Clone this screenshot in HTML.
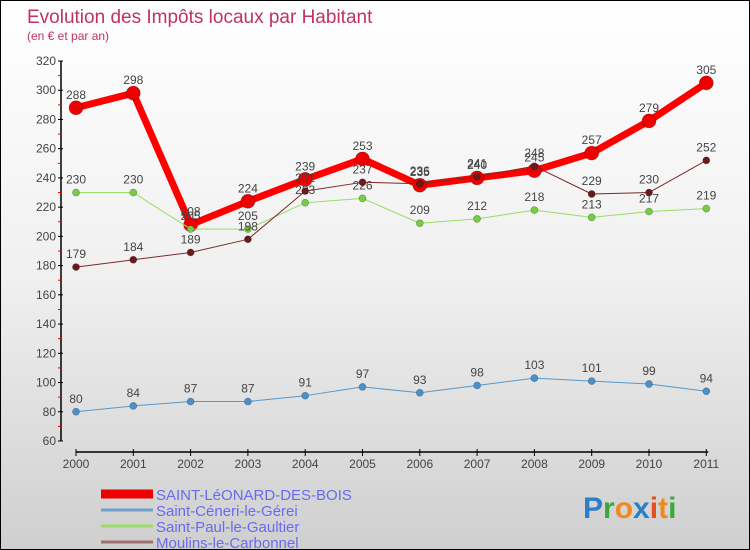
<!DOCTYPE html>
<html><head><meta charset="utf-8"><style>
body{margin:0;}
#wrap{width:748px;height:548px;border:1px solid #000;background:linear-gradient(#fff 0%,#f0f0f0 50%,#cfcfcf 100%);position:relative;overflow:hidden;font-family:"Liberation Sans",sans-serif;}
svg{position:absolute;left:0;top:0;}
</style></head><body>
<div id="wrap">
<svg id="chart" width="750" height="550">
<text x="26" y="22" font-size="19" fill="#c0335e">Evolution des Impôts locaux par Habitant</text>
<text x="26" y="39" font-size="12" fill="#c0335e">(en € et par an)</text>
<g id="axes"></g><g id="series"></g><g id="legend"></g>
<text x="582" y="517" font-size="30" font-weight="bold"><tspan fill="#2a7fc8">P</tspan><tspan fill="#3aa83a">r</tspan><tspan fill="#f08a1c">o</tspan><tspan fill="#2a7fc8">x</tspan><tspan fill="#e84a1c">i</tspan><tspan fill="#f08a1c">t</tspan><tspan fill="#3aa83a">i</tspan></text>
</svg></div>
<script>
const years=[2000,2001,2002,2003,2004,2005,2006,2007,2008,2009,2010,2011];
const yTicks=[60,80,100,120,140,160,180,200,220,240,260,280,300,320];
const seriesNames=["SAINT-LéONARD-DES-BOIS","Saint-Céneri-le-Gérei","Saint-Paul-le-Gaultier","Moulins-le-Carbonnel"];
const valsSLB=[288,298,208,224,239,253,235,240,245,257,279,305];
const valsCeneri=[80,84,87,87,91,97,93,98,103,101,99,94];
const valsPaul=[230,230,205,205,223,226,209,212,218,213,217,219];
const valsMoulins=[179,184,189,198,231,237,236,241,248,229,230,252];
const NS="http://www.w3.org/2000/svg";
function X(i){return 75+i*57.3;}
function Y(v){return 440-(v-60)*380/260;}
function mk(tag,attrs,parent){const e=document.createElementNS(NS,tag);for(const k in attrs)e.setAttribute(k,attrs[k]);parent.appendChild(e);return e;}
const ax=document.getElementById('axes');
let yl=mk('line',{x1:60,y1:Y(320),x2:60,y2:440,stroke:'#000','stroke-width':1.5},ax);


let xl=mk('line',{x1:75,y1:451,x2:X(11)+2,y2:451,stroke:'#000','stroke-width':1.5},ax);


yTicks.forEach((t,k)=>{
  mk('line',{x1:57,y1:Y(t),x2:62,y2:Y(t),stroke:'#000'},ax);
  if(k<yTicks.length-1)mk('line',{x1:57,y1:Y(t+10),x2:60,y2:Y(t+10),stroke:'#e00'},ax);
  const tx=mk('text',{x:55,y:Y(t)+4,'font-size':12,fill:'#444','text-anchor':'end'},ax);tx.textContent=t;
  
  
});
years.forEach((yr,i)=>{
  mk('line',{x1:X(i),y1:448,x2:X(i),y2:455,stroke:'#000'},ax);
  const tx=mk('text',{x:X(i),y:467,'font-size':12,fill:'#444','text-anchor':'middle'},ax);tx.textContent=yr;
  
  
});
const sg=document.getElementById('series');
const defs=[
 {vals:valsMoulins,line:'#7a2a2a',w:1,dot:'#6a1a1a',r:3.5,name:'moulins'},
 {vals:valsPaul,line:'#99dd66',w:1,dot:'#77cc44',r:3.5,name:'saint-paul'},
 {vals:valsCeneri,line:'#5599cc',w:1,dot:'#4a90cc',r:3.5,name:'saint-ceneri'},
 {vals:valsSLB,line:'#ff0000',w:7,dot:'#ee0000',r:7,name:'saint-leonard'}
];
const order=[3,2,1,0];
order.forEach(k=>{
  const d=defs[k];
  const g=mk('g',{},sg);
  
  
  const p=mk('polyline',{points:d.vals.map((v,i)=>X(i)+','+Y(v)).join(' '),fill:'none',stroke:d.line,'stroke-width':d.w,'stroke-linejoin':'round'},g);
  
  
  d.vals.forEach((v,i)=>{
    const c=mk('circle',{cx:X(i),cy:Y(v),r:d.r,fill:d.dot,stroke:'rgba(0,0,0,0.3)','stroke-width':0.7},g);
    
    
    const t=mk('text',{x:X(i),y:Y(v)-9,'font-size':12,fill:'#444','text-anchor':'middle'},g);t.textContent=v;
    
    
  });
});
const lg=document.getElementById('legend');
const lcol=['#ee0000','#6fa0cc','#99dd66','#a07070'];const lw=[9,3,3,3];
seriesNames.forEach((n,k)=>{
  const y=493+k*16;
  const g=mk('g',{},lg);
  
  
  mk('rect',{x:100,y:y-lw[k]/2,width:52,height:lw[k],fill:lcol[k]},g);
  const t=mk('text',{x:155,y:y+6,'font-size':15,fill:'#6a6af0'},g);t.textContent=n;
});
</script>
</body></html>
